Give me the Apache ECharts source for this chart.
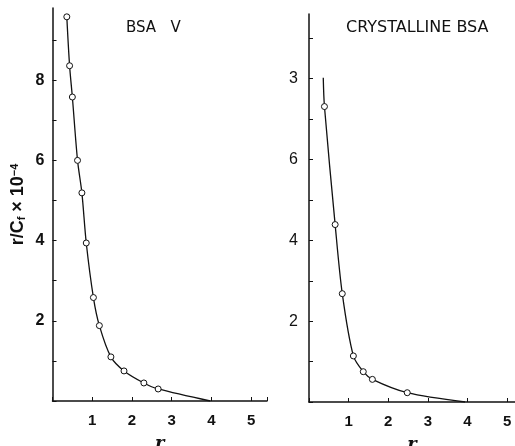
<!DOCTYPE html>
<html>
<head>
<meta charset="UTF-8">
<title>BSA binding</title>
<script src="https://cdn.jsdelivr.net/npm/echarts@6/dist/echarts.min.js"></script>
<style>
  html, body { margin: 0; padding: 0; background: #fff; }
  #main { width: 515px; height: 446px; }
</style>
</head>
<body>
<div id="main"></div>
<script>
// BSA V (left panel) : r vs r/Cf x 10^-4
var bsaVR  = [0.36, 0.43, 0.50, 0.63, 0.74, 0.85, 1.03, 1.18, 1.47, 1.80, 2.30, 2.66];
var bsaVRC = [9.58, 8.36, 7.58, 6.00, 5.19, 3.94, 2.58, 1.88, 1.10, 0.75, 0.45, 0.30];
var bsaVEnd = [3.97, 0];

// crystalline BSA (right panel)
var crystR  = [0.39, 0.66, 0.84, 1.12, 1.37, 1.60, 2.48];
var crystRC = [7.31, 4.39, 2.68, 1.14, 0.75, 0.56, 0.23];
var crystStart = [0.36, 8.02];
var crystEnd = [3.94, 0];

// tick labels
var xTicks = [1, 2, 3, 4, 5];
var xLabels = ['1', '2', '3', '4', '5'];
var yTicks = [2, 4, 6, 8];
var leftYLabels = ['2', '4', '6', '8'];
var rightYLabels = ['2', '4', '6', '3']; // top label printed as "3" in the original

function lookup(ticks, labels) {
  return function (v) {
    var i = ticks.indexOf(Math.round(v * 100) / 100);
    return i < 0 ? '' : labels[i];
  };
}

function pts(xs, ys) {
  return xs.map(function (x, i) { return [x, ys[i]]; });
}

var leftData = pts(bsaVR, bsaVRC);
leftData.push({ value: bsaVEnd, symbol: 'none' });

var rightData = [{ value: crystStart, symbol: 'none' }].concat(pts(crystR, crystRC));
rightData.push({ value: crystEnd, symbol: 'none' });

var black = '#111';
var font = 'Liberation Sans';

function xAxis(idx, max) {
  return {
    type: 'value', gridIndex: idx, min: 0, max: max, interval: 1,
    name: 'r', nameLocation: 'middle', nameGap: 34,
    nameTextStyle: { fontFamily: 'DejaVu Serif', fontStyle: 'italic', fontWeight: 'bold', fontSize: 18, color: black },
    axisLine: { lineStyle: { color: black, width: 1.5 } },
    axisTick: { inside: true, length: 4, lineStyle: { color: black, width: 1 } },
    axisLabel: { formatter: lookup(xTicks, xLabels), margin: 12, fontFamily: font, fontWeight: 'bold', fontSize: 15, color: black, showMaxLabel: true },
    splitLine: { show: false }
  };
}

function yAxis(idx, max, labels, opts) {
  return Object.assign({
    type: 'value', gridIndex: idx, min: 0, max: max, interval: 1,
    axisLine: { lineStyle: { color: black, width: 1.5 } },
    axisTick: { inside: true, length: 4, lineStyle: { color: black, width: 1 } },
    axisLabel: { formatter: lookup(yTicks, labels), margin: 8, fontFamily: font, fontWeight: idx === 0 ? 'bold' : 'normal', fontSize: 16, color: black, showMaxLabel: false },
    splitLine: { show: false }
  }, opts || {});
}

function curve(idx, data) {
  return {
    type: 'line', xAxisIndex: idx, yAxisIndex: idx, data: data,
    smooth: 0.3,
    symbol: 'circle', symbolSize: 6,
    itemStyle: { color: '#fff', borderColor: black, borderWidth: 1 },
    lineStyle: { color: black, width: 1.3 },
    emphasis: { disabled: true }
  };
}

var chart = echarts.init(document.getElementById('main'), null, { renderer: 'canvas' });

chart.setOption({
  animation: false,
  backgroundColor: '#fff',
  title: [
    { text: 'BSA   V', left: 121, top: 16, textStyle: { fontFamily: 'DejaVu Sans', fontWeight: 'normal', fontSize: 15, color: black } },
    { text: 'CRYSTALLINE BSA', left: 341, top: 15, textStyle: { fontFamily: 'DejaVu Sans', fontWeight: 'normal', fontSize: 16, color: black } }
  ],
  grid: [
    { left: 52.5, top: 8, width: 214.5, height: 393, outerBoundsMode: 'none' },
    { left: 309, top: 14, width: 206, height: 388, outerBoundsMode: 'none' }
  ],
  xAxis: [xAxis(0, 5.4), xAxis(1, 5.2)],
  yAxis: [
    yAxis(0, 9.8, leftYLabels, {
      name: '{a|r/C}{s|f}{a| × 10}{p|−4}', nameLocation: 'middle', nameRotate: 90, nameGap: 25,
      nameTextStyle: {
        color: black,
        rich: {
          a: { fontFamily: font, fontSize: 18, fontWeight: 'bold', color: black },
          s: { fontFamily: font, fontSize: 11, fontWeight: 'bold', color: black, verticalAlign: 'bottom', padding: [7, 0, 0, 0] },
          p: { fontFamily: font, fontSize: 11, fontWeight: 'bold', color: black, verticalAlign: 'top', padding: [0, 0, 7, 0] }
        }
      }
    }),
    yAxis(1, 9.6, rightYLabels, { offset: 3 })
  ],
  series: [curve(0, leftData), curve(1, rightData)]
});
</script>
</body>
</html>
